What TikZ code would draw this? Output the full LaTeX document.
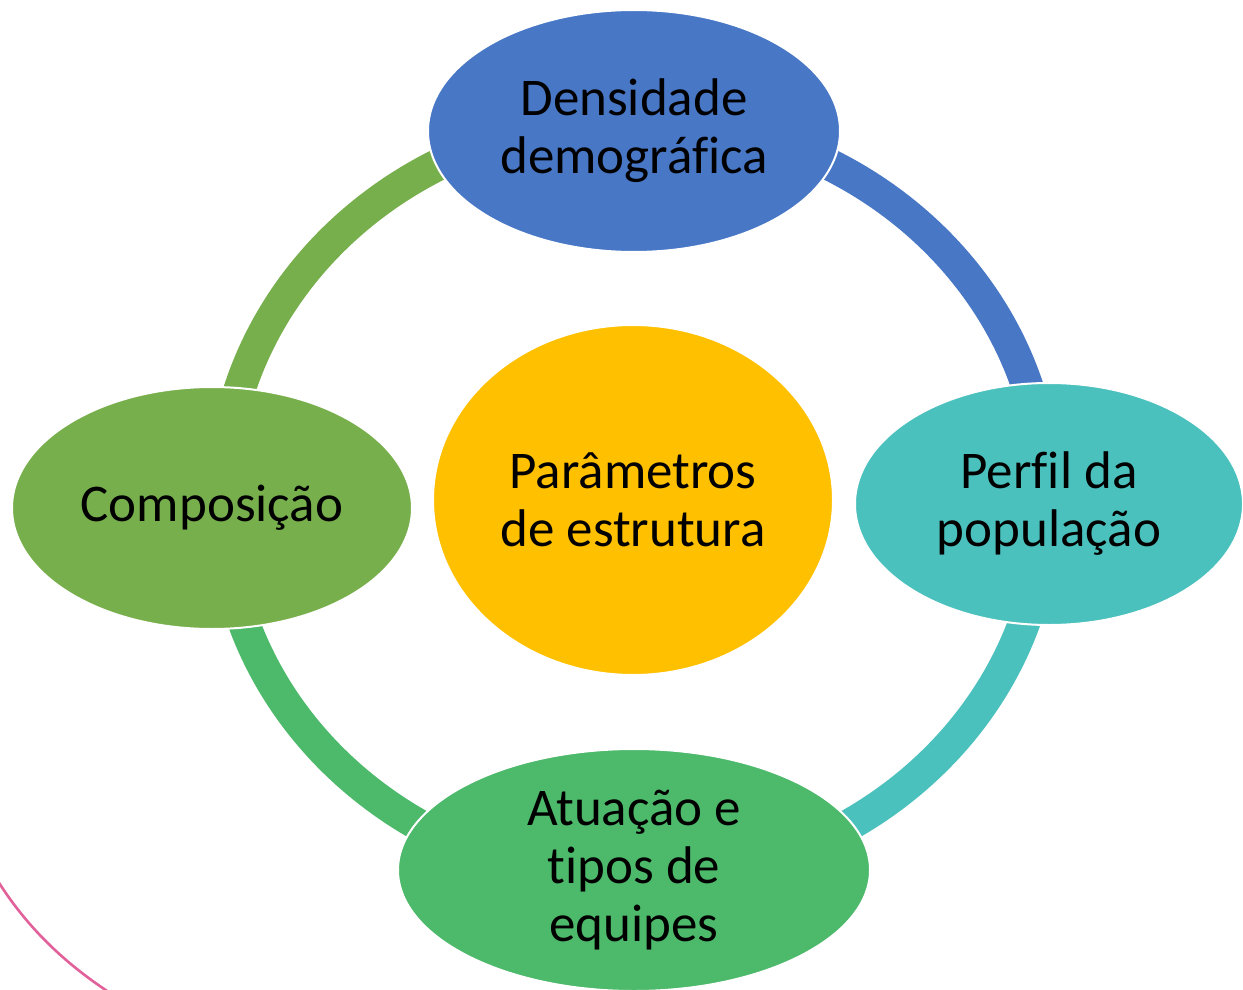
\documentclass[tikz,border=0pt]{standalone}
\usepackage{fontspec}
\setmainfont{Carlito}[Ligatures=NoCommon]
\usetikzlibrary{shapes.geometric}
\definecolor{cblue}{HTML}{4877C6}
\definecolor{cgold}{HTML}{FFC000}
\definecolor{colive}{HTML}{77AF4C}
\definecolor{cgreen}{HTML}{4DB96B}
\definecolor{cteal}{HTML}{4BC1BE}
\definecolor{cpink}{HTML}{E2619A}
\tikzset{
  bubble/.style={ellipse, draw=white, line width=1pt, inner sep=0pt, outer sep=0pt,
    align=center, font=\fontsize{26.5pt}{29pt}\selectfont, text=black},
  ringseg/.style={line width=16pt, line cap=butt},
}
\begin{document}
\begin{tikzpicture}[x=0.5pt, y=-0.5pt]
\useasboundingbox (0,0) rectangle (1243,990);
\clip (0,0) rectangle (1243,990);
\fill[white] (0,0) rectangle (1243,990);
% ring
\coordinate (ring) at (634,500);
\draw[ringseg, colive] ([xshift=-206pt]ring) arc[start angle=180, end angle=90, x radius=206pt, y radius=190.5pt];
\draw[ringseg, cblue] ([yshift=190.5pt]ring) arc[start angle=90, end angle=0, x radius=206pt, y radius=190.5pt];
\draw[ringseg, cteal] ([xshift=206pt]ring) arc[start angle=0, end angle=-90, x radius=206pt, y radius=190.5pt];
\draw[ringseg, cgreen] ([yshift=-190.5pt]ring) arc[start angle=270, end angle=180, x radius=206pt, y radius=190.5pt];
% bubbles
\node[bubble, fill=cgold, minimum width=200pt, minimum height=175pt] (center) at (633,500) {Parâmetros\\de estrutura};
\node[bubble, fill=cblue, minimum width=206pt, minimum height=121pt] (top) at (634,131) {Densidade\\demográfica};
\node[bubble, fill=cteal, minimum width=194pt, minimum height=121pt] (right) at (1049,504) {Perfil da\\população};
\node[bubble, fill=colive, minimum width=200pt, minimum height=121pt] (left) at (212,508) {Composição};
\node[bubble, fill=cgreen, minimum width=236pt, minimum height=121pt] (bottom) at (634,870) {Atuação e\\tipos de\\equipes};
% pink arc in the corner
\coordinate (pa) at (-4,878);
\coordinate (pb) at (118,998);
\draw[cpink, line width=1.3pt] (pa) .. controls (28,930) and (70,968) .. (pb);
\end{tikzpicture}
\end{document}
